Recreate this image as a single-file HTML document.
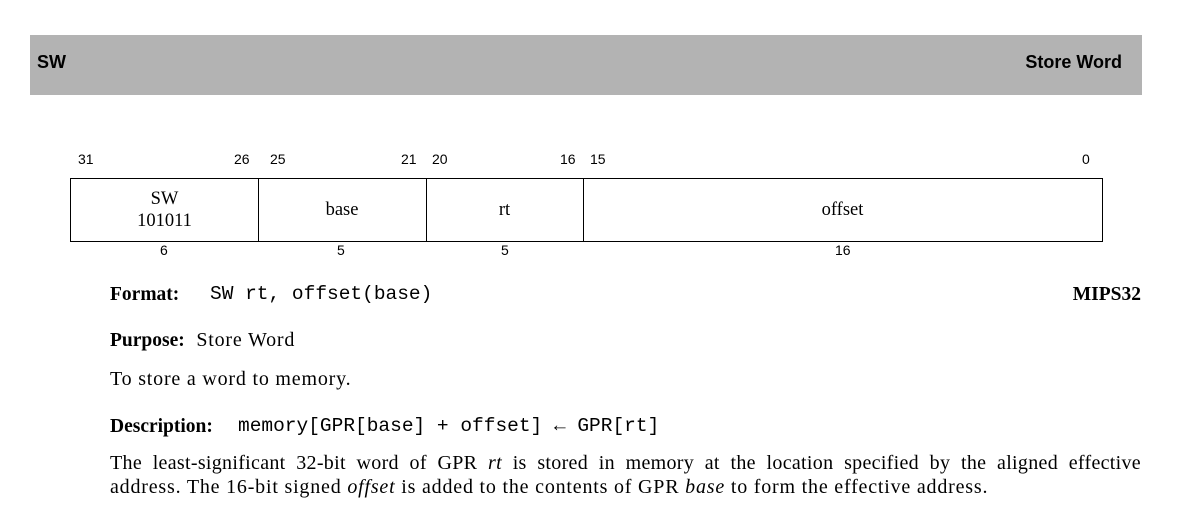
<!DOCTYPE html>
<html><head><meta charset="utf-8"><style>
body{margin:0;width:1182px;height:517px;background:#fff;position:relative;overflow:hidden;font-family:"Liberation Serif",serif;color:#000}
.a{position:absolute;white-space:nowrap}
.s{font-family:"Liberation Sans",sans-serif}
.m{font-family:"Liberation Mono",monospace;font-size:19.5px;letter-spacing:0}
.n{font-family:"Liberation Sans",sans-serif;font-size:14px;top:151px}
.w{font-family:"Liberation Sans",sans-serif;font-size:14px;top:242px}
.f{position:absolute;top:178px;height:64px;border:1px solid #000;box-sizing:border-box;display:flex;align-items:center;justify-content:center;text-align:center;font-size:18.5px;line-height:22px}
.t{font-size:20px;letter-spacing:0.8px;line-height:23px}
.t b{font-size:19.5px;letter-spacing:0}
</style></head><body>
<div class="a" style="left:30px;top:35px;width:1112px;height:60px;background:#b3b3b3"></div>
<div class="a s" style="left:37px;top:52px;font-size:18px;font-weight:bold">SW</div>
<div class="a s" style="right:60px;top:52px;font-size:18px;font-weight:bold">Store Word</div>

<div class="a n" style="left:78px">31</div>
<div class="a n" style="left:234px">26</div>
<div class="a n" style="left:270px">25</div>
<div class="a n" style="left:401px">21</div>
<div class="a n" style="left:432px">20</div>
<div class="a n" style="left:560px">16</div>
<div class="a n" style="left:590px">15</div>
<div class="a n" style="left:1082px">0</div>

<div class="f" style="left:70px;width:189px">SW<br>101011</div>
<div class="f" style="left:258px;width:169px;border-left:none">base</div>
<div class="f" style="left:426px;width:158px;border-left:none">rt</div>
<div class="f" style="left:583px;width:520px;border-left:none">offset</div>

<div class="a w" style="left:160px">6</div>
<div class="a w" style="left:337px">5</div>
<div class="a w" style="left:501px">5</div>
<div class="a w" style="left:835px">16</div>

<div class="a t" style="left:110px;top:283px"><b>Format:</b><span class="m" style="position:absolute;left:100px;top:0">SW rt, offset(base)</span></div>
<div class="a t" style="right:41px;top:283px"><b>MIPS32</b></div>
<div class="a t" style="left:110px;top:329px"><b>Purpose:</b>&nbsp; Store Word</div>
<div class="a t" style="left:110px;top:368px">To store a word to memory.</div>
<div class="a t" style="left:110px;top:415px"><b>Description:</b><span class="m" style="position:absolute;left:128px;top:0">memory[GPR[base] + offset] ← GPR[rt]</span></div>
<div class="a t" style="left:110px;top:451px;width:1031px;white-space:normal;line-height:24px">
<div style="text-align:justify;text-align-last:justify;letter-spacing:0.3px">The least-significant 32-bit word of GPR <i>rt</i> is stored in memory at the location specified by the aligned effective</div>
<div>address. The 16-bit signed <i>offset</i> is added to the contents of GPR <i>base</i> to form the effective address.</div>
</div>
</body></html>
